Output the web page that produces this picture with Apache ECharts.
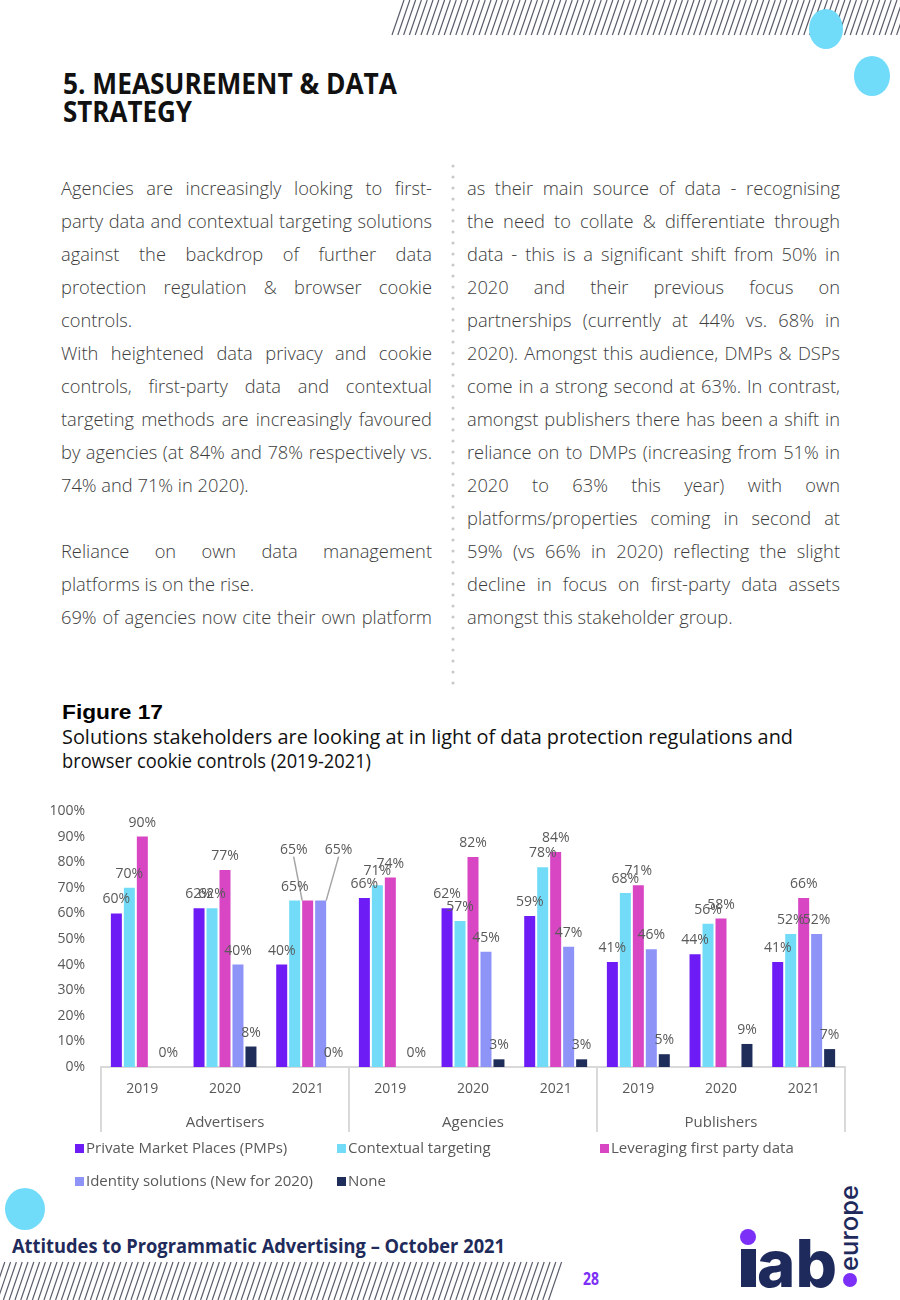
<!DOCTYPE html>
<html><head><meta charset="utf-8">
<script src="https://cdn.jsdelivr.net/npm/echarts@6/dist/echarts.min.js"></script>
<style>
html,body{margin:0;padding:0;background:#fff;}
#page{position:relative;width:900px;height:1300px;overflow:hidden;background:#fff;}
#deco{position:absolute;left:0;top:0;}
.ln{position:absolute;height:33px;line-height:33px;font-family:"Open Sans",sans-serif;font-weight:300;font-size:18.3px;color:#3c3c3c;white-space:nowrap;}
.j{text-align:justify;text-align-last:justify;}
#chart{position:absolute;left:0;top:790px;width:900px;height:420px;}
</style></head>
<body><div id="page">
<svg id="deco" width="900" height="1300" xmlns="http://www.w3.org/2000/svg">
  <g id="hatchTop" stroke="#5a5e6b" stroke-width="1.2"></g>
  <g id="hatchBot" stroke="#5a5e6b" stroke-width="1.2"></g>
  <ellipse cx="826" cy="29" rx="17" ry="20" fill="#70dcf9"/>
  <ellipse cx="872" cy="76" rx="18" ry="20" fill="#70dcf9"/>
  <ellipse cx="25" cy="1209" rx="20" ry="21" fill="#70dcf9"/>
  <text x="63" y="94" font-family="Open Sans" font-weight="700" font-size="28" fill="#111" textLength="334" lengthAdjust="spacingAndGlyphs">5. MEASUREMENT &amp; DATA</text>
  <text x="63" y="122" font-family="Open Sans" font-weight="700" font-size="28" fill="#111" textLength="129" lengthAdjust="spacingAndGlyphs">STRATEGY</text>
  <line x1="453" y1="166" x2="453" y2="690" stroke="#c8c8c8" stroke-width="3" stroke-linecap="round" stroke-dasharray="0.1 10.9"/>
  <text x="62" y="719" font-family="Liberation Sans" font-weight="700" font-size="20" fill="#000" textLength="101" lengthAdjust="spacingAndGlyphs">Figure 17</text>
  <text x="62" y="744" font-family="Open Sans" font-size="19.5" fill="#111" textLength="731" lengthAdjust="spacingAndGlyphs">Solutions stakeholders are looking at in light of data protection regulations and</text>
  <text x="62" y="768" font-family="Open Sans" font-size="19.5" fill="#111" textLength="309" lengthAdjust="spacingAndGlyphs">browser cookie controls (2019-2021)</text>
  <text x="12" y="1253" font-family="Open Sans" font-weight="700" font-size="19" fill="#1f2b5b" textLength="493" lengthAdjust="spacingAndGlyphs">Attitudes to Programmatic Advertising – October 2021</text>
  <text x="583" y="1285" font-family="Open Sans" font-weight="700" font-size="17" fill="#7b2ff7" textLength="16" lengthAdjust="spacingAndGlyphs">28</text>
  <rect x="741" y="1249" width="15" height="38" fill="#1f2a5c"/>
  <circle cx="748" cy="1237" r="8" fill="#7b2ff7"/>
  <text x="757" y="1287" font-family="Inter" font-weight="800" font-size="66" fill="#1f2a5c" textLength="80" lengthAdjust="spacingAndGlyphs">ab</text>
  <circle cx="850" cy="1280" r="7" fill="#7b2ff7"/>
  <text transform="translate(858,1271) rotate(-90)" font-family="Inter" font-weight="500" font-size="25" fill="#1f2a5c" textLength="86" lengthAdjust="spacingAndGlyphs">europe</text>
</svg>
<div id="text"></div>
<div id="chart"></div>
</div>
<script>
// ---- data ----
const years = ['2019','2020','2021','2019','2020','2021','2019','2020','2021'];
const groups = ['Advertisers','Agencies','Publishers'];
const seriesNames = ['Private Market Places (PMPs)','Contextual targeting','Leveraging first party data','Identity solutions (New for 2020)','None'];
const pmps      = [60, 62, 40, 66, 62, 59, 41, 44, 41];
const contextual= [70, 62, 65, 71, 57, 78, 68, 56, 52];
const firstParty= [90, 77, 65, 74, 82, 84, 71, 58, 66];
const identity  = [null, 40, 65, null, 45, 47, 46, null, 52];
const none      = [0, 8, 0, 0, 3, 3, 5, 9, 7];
const yTicks = [0,10,20,30,40,50,60,70,80,90,100];

// ---- decorations (hatch) ----
(function(){
  const ns='http://www.w3.org/2000/svg';
  const top=document.getElementById('hatchTop');
  for(let x=392;x<=912;x+=5.8){
    const l=document.createElementNS(ns,'line');
    l.setAttribute('x1',x);l.setAttribute('y1',35);l.setAttribute('x2',x+12);l.setAttribute('y2',0);
    top.appendChild(l);
  }
  const bot=document.getElementById('hatchBot');
  for(let x=-14;x<=552;x+=5.8){
    const l=document.createElementNS(ns,'line');
    l.setAttribute('x1',x);l.setAttribute('y1',1300);l.setAttribute('x2',x+13);l.setAttribute('y2',1262);
    bot.appendChild(l);
  }
})();

// ---- body text ----
const leftLines = [
 ['Agencies are increasingly looking to first-',1],
 ['party data and contextual targeting solutions',1],
 ['against the backdrop of further data',1],
 ['protection regulation & browser cookie',1],
 ['controls.',0],
 ['With heightened  data privacy and cookie',1],
 ['controls, first-party data  and contextual',1],
 ['targeting methods are increasingly favoured',1],
 ['by agencies (at 84% and 78% respectively vs.',1],
 ['74% and 71% in 2020).',0],
 ['',0],
 ['Reliance on own data management',1],
 ['platforms is on the rise.',0],
 ['69% of agencies now cite their own platform',1]
];
const rightLines = [
 ['as their main source of data - recognising',1],
 ['the need to collate & differentiate through',1],
 ['data - this is a significant shift from 50% in',1],
 ['2020 and their previous focus on',1],
 ['partnerships (currently at 44% vs. 68% in',1],
 ['2020).  Amongst this audience, DMPs & DSPs',1],
 ['come in a strong second at 63%.  In contrast,',1],
 ['amongst publishers there has been a shift in',1],
 ['reliance on to DMPs (increasing from 51% in',1],
 ['2020  to 63% this year) with own',1],
 ['platforms/properties coming in second at',1],
 ['59% (vs 66% in 2020) reflecting the slight',1],
 ['decline in focus on first-party data assets',1],
 ['amongst this stakeholder group.',0]
];
(function(){
  const host=document.getElementById('text');
  function put(lines,left,width){
    lines.forEach((l,i)=>{
      if(!l[0])return;
      const d=document.createElement('div');
      d.className='ln'+(l[1]?' j':'');
      d.style.left=left+'px';d.style.width=width+'px';
      d.style.top=(170.5+33*i)+'px';
      d.textContent=l[0];
      host.appendChild(d);
    });
  }
  put(leftLines,61,371);
  put(rightLines,467,373);
})();

// ---- chart ----
const colors=['#6e1cf5','#72dcf8','#d846c3','#8d93f7','#1f2d5b'];
const values=[pmps,contextual,firstParty,identity,none];
const labelFont={fontFamily:'Open Sans',fontSize:14,color:'#595959'};
const moved={'2_2':[-14,-37],'3_2':[18,-37]};
const series=values.map((arr,si)=>({
  name:seriesNames[si],type:'bar',xAxisIndex:0,
  barWidth:11,barGap:'18%',
  itemStyle:{color:colors[si]},
  label:Object.assign({show:true,position:'top',distance:7,formatter:'{c}%'},labelFont),
  labelLayout:function(p){const m=moved[si+'_'+p.dataIndex];return m?{dx:m[0],dy:m[1]}:{};},
  data:arr.map((v,i)=>{
    const item={value:v};
    if(moved[si+'_'+i]) item.labelLine={show:true,lineStyle:{color:'#a6a6a6',width:1.5}};
    return item;
  })
}));
const legendPos=[[75,351],[337,351],[600,351],[75,384],[337,384]];
const chart=echarts.init(document.getElementById('chart'));
chart.setOption({
  animation:false,
  textStyle:{fontFamily:'Open Sans'},
  grid:{left:101,right:55,top:21,bottom:143},
  legend:seriesNames.map((n,i)=>({data:[n],left:legendPos[i][0],top:legendPos[i][1],padding:0,itemWidth:9,itemHeight:9,icon:'rect',
     textStyle:{fontFamily:'Open Sans',fontSize:15,color:'#595959',padding:[0,0,0,-3]}})),
  yAxis:{type:'value',min:yTicks[0],max:yTicks[yTicks.length-1],interval:10,
    axisLine:{show:false},axisTick:{show:false},splitLine:{show:false},
    axisLabel:{formatter:'{value}%',margin:16,fontFamily:'Open Sans',fontSize:14,color:'#595959'}},
  xAxis:[
    {type:'category',data:years,position:'bottom',
      axisLine:{lineStyle:{color:'#d9d9d9',width:2}},axisTick:{show:false},
      axisLabel:{margin:15,fontFamily:'Open Sans',fontSize:14,color:'#595959'}},
    {type:'category',data:groups,position:'bottom',boundaryGap:true,
      axisLine:{lineStyle:{color:'#d9d9d9',width:2}},
      axisTick:{show:true,length:65,lineStyle:{color:'#d9d9d9',width:2}},
      axisLabel:{margin:48,fontFamily:'Open Sans',fontSize:15,color:'#595959'}}
  ],
  series:series
});
</script>
</body></html>
